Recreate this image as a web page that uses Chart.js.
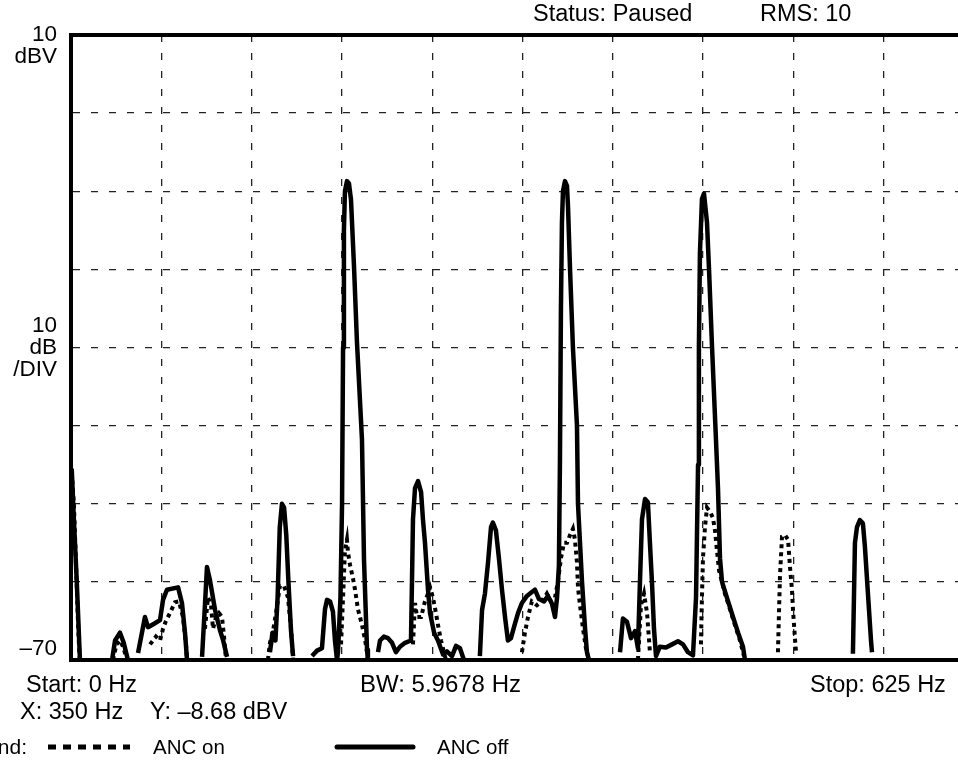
<!DOCTYPE html>
<html>
<head>
<meta charset="utf-8">
<script src="https://cdn.jsdelivr.net/npm/chart.js@4/dist/chart.umd.min.js"></script>
<style>
  html, body { margin: 0; padding: 0; background: #fff; overflow: hidden; }
  #wrap { position: absolute; left: 0; top: 0; width: 1000px; height: 762px; }
</style>
</head>
<body>
<div id="wrap"><canvas id="spectrum" width="1000" height="762"></canvas></div>
<script>
// Spectrum readout, 0..625 Hz, -70..10 dBV, 10 dB/div
// null = trace below the bottom of the screen (gap)
const offHz = [
  0.5, 2, 4, 6.2, null,
  28.4, 30.5, 33.9, 36.5, 39.4, null,
  46.4, 51.2, 53.3, 58.1, 61.6, 63.7, 66.4, 74.1, 76.8, 78.9, 80.3, null,
  90.7, 92.7, 94.1, 96.2, 99.7, 103.1, 105.2, 108, null,
  137.7, 139.5, 141.5, 143, 144.5, 146, 147.5, 149, 150.5, 152.3, 153.7, null,
  166.8, 170.3, 173.7, 175.8, 177.2, 179.3, 181.3, 182.7, 184.1, 184.8, 186.5, 187.6, 188.3, 188.9, 189.6, 191, 192.4, 193.8, 195.9, 197.9, 201.4, 202.8, 204.9, 205.5, null,
  212.5, 213.9, 216.6, 219.4, 222.2, 224.9, 227.7, 231.2, 235.3, 236, 236.7, 238.1, 240.2, 242.3, 243.6, 245, 247.1, 248.5, 251.3, 254, 257.5, 260.2, 263.7, 266.5, 269.2, 272, null,
  283, 284.5, 286.5, 288.6, 290.7, 292, 294.1, 296.2, 298.3, 300.4, 302.4, 304.5, 306.6, 309.4, 312.1, 315.6, 319, 321.1, 323.9, 327.4, 330.1, 332.9, 335, 336.4, 337.7, 338.4, 339.1, 339.8, 340.5, 341.9, 343.3, 344, 345.4, 347.4, 350.2, 350.9, 353.7, 355.8, 357.1, 358.5, null,
  380, 382, 384.8, 387.6, 390.4, 392.4, 393.8, 395.2, 397.3, 399.3, 400.7, 402.1, 403.5, 404.9, 407.6, 411.8, 416, 420.1, 423.6, 427, 430.5, 432.6, 434, 434.6, 435.3, 436.7, 438.1, 440.2, 441.6, 443.7, 446, 447.8, 449.2, 450.6, 454.8, 458.2, 461.7, 465.1, 466.5, null,
  541.2, 542.6, 544, 546, 548.1, 549.5, 551.6, 553.7, 554.4
];
const offDb = [
  -45.5, -52, -60, -70, null,
  -70, -67.5, -66.5, -67.8, -70, null,
  -69.1, -64.5, -65.8, -65.3, -64.9, -62.3, -61, -60.7, -62.7, -66.5, -70, null,
  -69.6, -63, -58.1, -59.8, -63.6, -66.2, -67.4, -69.6, null,
  -69, -66.5, -67.5, -62, -53, -50, -50.5, -54, -60, -66.3, -69.5, null,
  -69.5, -68.8, -68.5, -63.5, -62.3, -62.5, -63.8, -67.5, -70, -69, -62, -50, -30, -15, -10, -8.7, -9, -11.1, -19.7, -29.2, -41.8, -57.2, -68.7, -70, null,
  -69, -67.5, -67, -67.2, -67.8, -69, -68.3, -67.8, -67.5, -60, -52, -48, -47.1, -48.5, -52, -55, -61, -64, -66.5, -67.5, -69.3, -68.9, -69.5, -68.2, -68.5, -70, null,
  -69.5, -63.6, -61.5, -57.6, -53, -52.4, -53.4, -57, -61, -64.5, -67.5, -67.2, -65.8, -64, -62.7, -61.8, -61.3, -61, -62.2, -62.5, -61.8, -62.8, -64.5, -62, -58, -45, -25, -14, -10, -8.7, -9.3, -12, -20, -30, -40, -50, -60, -66, -69, -70, null,
  -69, -64.7, -65.1, -67.2, -66.3, -68.5, -60, -52, -49.4, -49.8, -55, -60, -66, -69.5, -68.3, -68.4, -68, -67.6, -68, -69, -69.4, -62, -45, -30, -18, -11, -10.3, -14, -20, -30, -40, -48, -57, -60, -62.5, -64.5, -66.5, -68.3, -70, null,
  -69.2, -55, -53, -52.1, -52.5, -55.5, -61.5, -67.5, -69
];

const onHz = [
  0.5, 2, 3.5, 5, 6, null,
  29, 31.5, 34, 36.5, 38.5, null,
  54.7, 58.8, 61.6, 63.7, 65.7, 68.5, 72, 74.7, 77.5, 79.6, 80.3, null,
  92.7, 94.8, 96.9, 98.3, 100.4, 102.4, 104.5, 105.9, 107.3, null,
  136.3, 137.7, 139.8, 141.9, 144.6, 147.4, 150.2, 152.3, 153.7, null,
  186.9, 188.3, 189.6, 191, 191.7, 193.1, 195.2, 196.6, 198.6, 201.4, 203.5, 204.9, 205.5, null,
  236.7, 238.1, 239.5, 242.3, 245, 247.1, 248.5, 250.5, 252.6, 254, 256.1, 258.1, 259.5, null,
  312.1, 314.2, 316.3, 319, 322.5, 326, 329.4, 332.2, 335, 337, 339.1, 341.2, 343.3, 345.4, 347.4, 348.8, 350.2, 350.9, 352.3, 354.4, 356.4, 358.5, null,
  392.4, 394.5, 396.6, 398.7, 400.7, null,
  436, 436.7, 437.4, 438.8, 440.2, 442.2, 444.3, 445.7, 447.1, 448.5, 449.9, 452.6, 456.1, 459.5, 463, 465.8, null,
  489.3, 490.7, 492.1, 494.2, 496.3, 497.6, 499, 499.7, 501.1, 501.8
];
const onDb = [
  -46, -50, -58, -66, -70, null,
  -70, -68, -67.5, -68.5, -70, null,
  -68, -67, -67.5, -66, -65, -64, -62.6, -62.5, -64.5, -68, -70, null,
  -66, -62, -63, -66, -64.5, -64, -64.5, -67, -70, null,
  -70, -67.8, -66.3, -64, -60.5, -60.5, -62, -66, -70, null,
  -68, -62, -56, -54.6, -56.2, -57.8, -59.6, -61, -63.5, -65.5, -67.4, -69, -70, null,
  -68, -62.7, -64.5, -64.5, -62.5, -61.5, -60.7, -62, -64, -65.5, -67.5, -69, -70, null,
  -69, -66.5, -64.5, -62.5, -63, -62.5, -61.5, -62.5, -62, -60, -57, -55, -55, -54, -53.2, -54.6, -57.5, -60.7, -63, -66, -68.5, -70, null,
  -70, -63, -61.5, -64, -69, null,
  -68, -62, -57, -53, -50.5, -51, -51.8, -53.4, -56, -58.5, -59.5, -61.5, -63.5, -65.5, -67.5, -69.5, null,
  -69, -59.3, -54.2, -54, -54.6, -58, -61, -63.5, -67.3, -69
];

// y labels drawn at these levels (blank lines used to push text up/down)
const levelTicks = [10, -30, -70];
const levelText = [['', '10', 'dBV'], ['10', 'dB', '/DIV'], ['\u201370', '']];

const FONT = "'Liberation Sans', Arial, sans-serif";

function toPoints(hz, db) {
  return hz.map((f, i) => ({ x: f === null ? hz[i - 1] : f, y: db[i] }));
}

// readout text around the screen
const notes = [
  { t: 'Status: Paused', x: 533, y: 21, size: 23.5 },
  { t: 'RMS: 10', x: 760, y: 21, size: 23.5 },
  { t: 'Start: 0 Hz', x: 26, y: 692, size: 23.5 },
  { t: 'BW: 5.9678 Hz', x: 360, y: 692, size: 24 },
  { t: 'Stop: 625 Hz', x: 810, y: 692, size: 23.5 },
  { t: 'X: 350 Hz', x: 20, y: 719, size: 23.5 },
  { t: 'Y: \u20138.68 dBV', x: 150, y: 719, size: 23.5 },
  { t: 'Legend:', x: 27, y: 754, size: 21, align: 'right' },
  { t: 'ANC on', x: 153, y: 754, size: 20.5 },
  { t: 'ANC off', x: 437, y: 754, size: 20.5 }
];

const readout = {
  id: 'readout',
  afterDraw(chart) {
    const ctx = chart.ctx;
    ctx.save();
    ctx.fillStyle = '#000';
    ctx.textBaseline = 'alphabetic';
    notes.forEach(n => {
      ctx.font = n.size + 'px ' + FONT;
      ctx.textAlign = n.align || 'left';
      ctx.fillText(n.t, n.x, n.y);
    });
    // legend samples
    ctx.strokeStyle = '#000';
    ctx.lineWidth = 5;
    ctx.setLineDash([8, 7]);
    ctx.beginPath(); ctx.moveTo(48, 747); ctx.lineTo(130, 747); ctx.stroke();
    ctx.setLineDash([]);
    ctx.lineCap = 'round';
    ctx.beginPath(); ctx.moveTo(337, 747); ctx.lineTo(413, 747); ctx.stroke();
    ctx.restore();
  }
};

new Chart(document.getElementById('spectrum'), {
  type: 'line',
  data: {
    datasets: [
      {
        label: 'ANC on',
        data: toPoints(onHz, onDb),
        borderColor: '#000',
        borderWidth: 4,
        borderDash: [4, 4],
        pointRadius: 0,
        spanGaps: false,
        tension: 0
      },
      {
        label: 'ANC off',
        data: toPoints(offHz, offDb),
        borderColor: '#000',
        borderWidth: 4.5,
        borderJoinStyle: 'round',
        pointRadius: 0,
        spanGaps: false,
        tension: 0
      }
    ]
  },
  options: {
    responsive: false,
    animation: false,
    devicePixelRatio: 1,
    layout: { padding: { left: 0, top: 35, right: 26, bottom: 102 } },
    plugins: { legend: { display: false }, tooltip: { enabled: false } },
    scales: {
      x: {
        type: 'linear', min: 0, max: 625,
        ticks: { display: false, stepSize: 62.5 },
        grid: { color: '#222', lineWidth: 1.3, drawTicks: false },
        border: { color: '#000', width: 4, dash: [7, 11] },
        afterFit(s) { s.height = 0; s.paddingLeft = 0; s.paddingRight = 0; }
      },
      top: {
        type: 'linear', position: 'top', min: 0, max: 625,
        ticks: { display: false },
        grid: { display: false, drawTicks: false },
        border: { color: '#000', width: 4 },
        afterFit(s) { s.height = 0; s.paddingLeft = 0; s.paddingRight = 0; }
      },
      y: {
        min: -70, max: 10,
        afterBuildTicks(s) {
          s.ticks = [];
          for (let v = -70; v <= 10; v += 10) s.ticks.push({ value: v });
        },
        ticks: {
          autoSkip: false,
          color: '#000',
          padding: 14,
          font: { family: FONT, size: 22.5, lineHeight: 0.98 },
          callback(v) {
            const k = levelTicks.indexOf(v);
            return k < 0 ? '' : levelText[k];
          }
        },
        grid: { color: '#222', lineWidth: 1.3, drawTicks: false },
        border: { color: '#000', width: 4, dash: [7, 11] },
        afterFit(s) { s.width = 71; s.paddingTop = 0; s.paddingBottom = 0; }
      }
    }
  },
  plugins: [readout]
});
</script>
</body>
</html>
